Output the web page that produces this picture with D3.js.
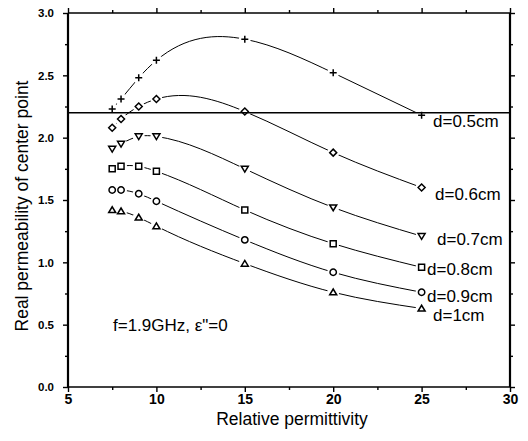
<!DOCTYPE html>
<html>
<head>
<meta charset="utf-8">
<script src="https://cdn.jsdelivr.net/npm/d3@7"></script>
<style>
  html, body { margin: 0; padding: 0; background: #fff; }
  svg { display: block; }
  .tick text { font-family: "Liberation Sans", Arial, sans-serif; font-weight: bold; fill: #000; }
  .xaxis .tick text { font-size: 14px; }
  .yaxis .tick text { font-size: 11.5px; }
  .axis path, .axis line { stroke: #000; }
</style>
</head>
<body>
<svg id="chart" width="528" height="441"></svg>
<script>
// Relative permittivity sampled for each slab thickness
const permittivity = [7.5, 8, 9, 10, 15, 20, 25];

// Real permeability of the center point, one series per thickness d
const seriesNames = ["d=0.5cm", "d=0.6cm", "d=0.7cm", "d=0.8cm", "d=0.9cm", "d=1cm"];
const mu_d05 = [2.23, 2.31, 2.48, 2.62, 2.79, 2.52, 2.18];
const mu_d06 = [2.08, 2.15, 2.25, 2.31, 2.21, 1.88, 1.60];
const mu_d07 = [1.91, 1.95, 2.01, 2.01, 1.75, 1.44, 1.21];
const mu_d08 = [1.75, 1.77, 1.77, 1.73, 1.42, 1.15, 0.96];
const mu_d09 = [1.58, 1.58, 1.55, 1.49, 1.18, 0.92, 0.76];
const mu_d10 = [1.42, 1.41, 1.36, 1.29, 0.99, 0.76, 0.63];
const seriesValues = [mu_d05, mu_d06, mu_d07, mu_d08, mu_d09, mu_d10];
const markerShapes = ["plus", "diamond", "tridown", "square", "circle", "triup"];

// Reference level
const refLevel = 2.2;

// Axis ticks
const xMajorTicks = [5, 10, 15, 20, 25, 30];
const xMinorTicks = [7.5, 12.5, 17.5, 22.5, 27.5];
const yMajorTicks = [0, 0.5, 1.0, 1.5, 2.0, 2.5, 3.0];
const yMinorTicks = [0.25, 0.75, 1.25, 1.75, 2.25, 2.75];

const annotation = "f=1.9GHz, \u03b5\"=0";
const xTitle = "Relative permittivity";
const yTitle = "Real permeability of center point";

const svg = d3.select("#chart");
const pLeft = 68, pRight = 510, pTop = 13, pBottom = 387;

const x = d3.scaleLinear().domain([5, 30]).range([pLeft, pRight]);
const y = d3.scaleLinear().domain([0, 3]).range([pBottom, pTop]);

const font = '"Liberation Sans", Arial, sans-serif';

// Axes: outward ticks on bottom/left, inward mirror ticks on top/right
function addAxis(axisGen, tx, ty, cls, labels) {
  const g = svg.append("g").attr("class", "axis " + cls)
    .attr("transform", `translate(${tx},${ty})`)
    .call(axisGen);
  g.select(".domain").remove();
  g.selectAll("line").attr("stroke-width", 1.4);
  if (!labels) g.selectAll("text").remove();
  return g;
}
const fmt1 = d3.format(".1f");
addAxis(d3.axisBottom(x).tickValues(xMajorTicks).tickSize(5).tickPadding(2).tickFormat(d3.format("d")), 0, pBottom, "xaxis", true);
addAxis(d3.axisBottom(x).tickValues(xMinorTicks).tickSize(3).tickFormat(""), 0, pBottom, "xaxis", false);
addAxis(d3.axisBottom(x).tickValues(xMajorTicks).tickSize(-5).tickFormat(""), 0, pTop, "xaxis", false);
addAxis(d3.axisBottom(x).tickValues(xMinorTicks).tickSize(-3).tickFormat(""), 0, pTop, "xaxis", false);
addAxis(d3.axisLeft(y).tickValues(yMajorTicks).tickSize(5).tickPadding(9).tickFormat(fmt1), pLeft, 0, "yaxis", true);
addAxis(d3.axisLeft(y).tickValues(yMinorTicks).tickSize(3).tickFormat(""), pLeft, 0, "yaxis", false);
addAxis(d3.axisLeft(y).tickValues(yMajorTicks).tickSize(-5).tickFormat(""), pRight, 0, "yaxis", false);
addAxis(d3.axisLeft(y).tickValues(yMinorTicks).tickSize(-3).tickFormat(""), pRight, 0, "yaxis", false);

// Frame
svg.append("line").attr("x1", pLeft).attr("x2", pRight).attr("y1", pTop).attr("y2", pTop).attr("stroke", "#000").attr("stroke-width", 1.6);
svg.append("line").attr("x1", pLeft).attr("x2", pRight).attr("y1", pBottom).attr("y2", pBottom).attr("stroke", "#000").attr("stroke-width", 1.4);
svg.append("line").attr("x1", pLeft).attr("x2", pLeft).attr("y1", pTop).attr("y2", pBottom).attr("stroke", "#000").attr("stroke-width", 2.2);
svg.append("line").attr("x1", pRight).attr("x2", pRight).attr("y1", pTop).attr("y2", pBottom).attr("stroke", "#000").attr("stroke-width", 2.2);

// Curve factory: natural cubic spline y(x), emitted as Bezier segments
function curveSplineX(context) {
  let xs, ys;
  return {
    areaStart() {}, areaEnd() {},
    lineStart() { xs = []; ys = []; },
    point(px, py) { xs.push(+px); ys.push(+py); },
    lineEnd() {
      const n = xs.length;
      if (!n) return;
      context.moveTo(xs[0], ys[0]);
      if (n < 3) { for (let i = 1; i < n; i++) context.lineTo(xs[i], ys[i]); return; }
      const h = [], M = new Array(n).fill(0);
      for (let i = 0; i < n - 1; i++) h.push(xs[i + 1] - xs[i]);
      // Tridiagonal system for interior second derivatives
      const a = [], b = [], c = [], r = [];
      for (let i = 1; i < n - 1; i++) {
        a.push(h[i - 1]); b.push(2 * (h[i - 1] + h[i])); c.push(h[i]);
        r.push(6 * ((ys[i + 1] - ys[i]) / h[i] - (ys[i] - ys[i - 1]) / h[i - 1]));
      }
      const m = b.length;
      for (let i = 1; i < m; i++) {
        const w = a[i] / b[i - 1];
        b[i] -= w * c[i - 1];
        r[i] -= w * r[i - 1];
      }
      const sol = new Array(m);
      sol[m - 1] = r[m - 1] / b[m - 1];
      for (let i = m - 2; i >= 0; i--) sol[i] = (r[i] - c[i] * sol[i + 1]) / b[i];
      for (let i = 0; i < m; i++) M[i + 1] = sol[i];
      for (let i = 0; i < n - 1; i++) {
        const hi = h[i], s = (ys[i + 1] - ys[i]) / hi;
        const d0 = s - hi * (2 * M[i] + M[i + 1]) / 6;
        const d1 = s + hi * (M[i] + 2 * M[i + 1]) / 6;
        context.bezierCurveTo(xs[i] + hi / 3, ys[i] + d0 * hi / 3,
                              xs[i + 1] - hi / 3, ys[i + 1] - d1 * hi / 3,
                              xs[i + 1], ys[i + 1]);
      }
    }
  };
}

// Smooth curves through each series
const line = d3.line().x((d, i) => x(permittivity[i])).y(d => y(d)).curve(curveSplineX);
const plot = svg.append("g");
seriesValues.forEach(vals => {
  plot.append("path").attr("d", line(vals)).attr("fill", "none")
    .attr("stroke", "#000").attr("stroke-width", 1);
});

// White halo around each marker so the curves break at the points
seriesValues.forEach(vals => {
  vals.forEach((v, i) => {
    plot.append("circle").attr("cx", x(permittivity[i])).attr("cy", y(v))
      .attr("r", 6).attr("fill", "#fff");
  });
});

// Reference line
svg.append("line").attr("x1", x(5)).attr("x2", x(30))
  .attr("y1", y(refLevel)).attr("y2", y(refLevel))
  .attr("stroke", "#000").attr("stroke-width", 1.5);

// Markers
function markerPath(shape) {
  const s = 3.5;
  switch (shape) {
    case "plus": return `M${-s},0H${s}M0,${-s}V${s}`;
    case "diamond": return `M0,${-s}L${s},0L0,${s}L${-s},0Z`;
    case "square": return `M-3,-3H3V3H-3Z`;
    case "circle": return d3.symbol(d3.symbolCircle, 32)();
    case "tridown": return `M${-s},${-2.6}L${s},${-2.6}L0,${3.2}Z`;
    case "triup": return `M${-s},${2.6}L${s},${2.6}L0,${-3.2}Z`;
  }
}
seriesValues.forEach((vals, k) => {
  vals.forEach((v, i) => {
    plot.append("path").attr("d", markerPath(markerShapes[k]))
      .attr("transform", `translate(${x(permittivity[i])},${y(v)})`)
      .attr("fill", "none").attr("stroke", "#000").attr("stroke-width", 1.5);
  });
});

// Series labels at the right end of each curve
const labelPos = [[433, 127], [435, 200], [437, 245], [427, 275], [427, 302], [433, 321]];
seriesNames.forEach((name, k) => {
  svg.append("text").attr("x", labelPos[k][0]).attr("y", labelPos[k][1])
    .attr("font-family", font).attr("font-size", 17).text(name);
});

// Condition note
svg.append("text").attr("x", 113).attr("y", 331)
  .attr("font-family", font).attr("font-size", 17).text(annotation);

// Axis titles
svg.append("text").attr("x", 292).attr("y", 425).attr("text-anchor", "middle")
  .attr("font-family", font).attr("font-size", 17.5).text(xTitle);
svg.append("text").attr("transform", "translate(28,206) rotate(-90)").attr("text-anchor", "middle")
  .attr("font-family", font).attr("font-size", 17.5).text(yTitle);
</script>
</body>
</html>
